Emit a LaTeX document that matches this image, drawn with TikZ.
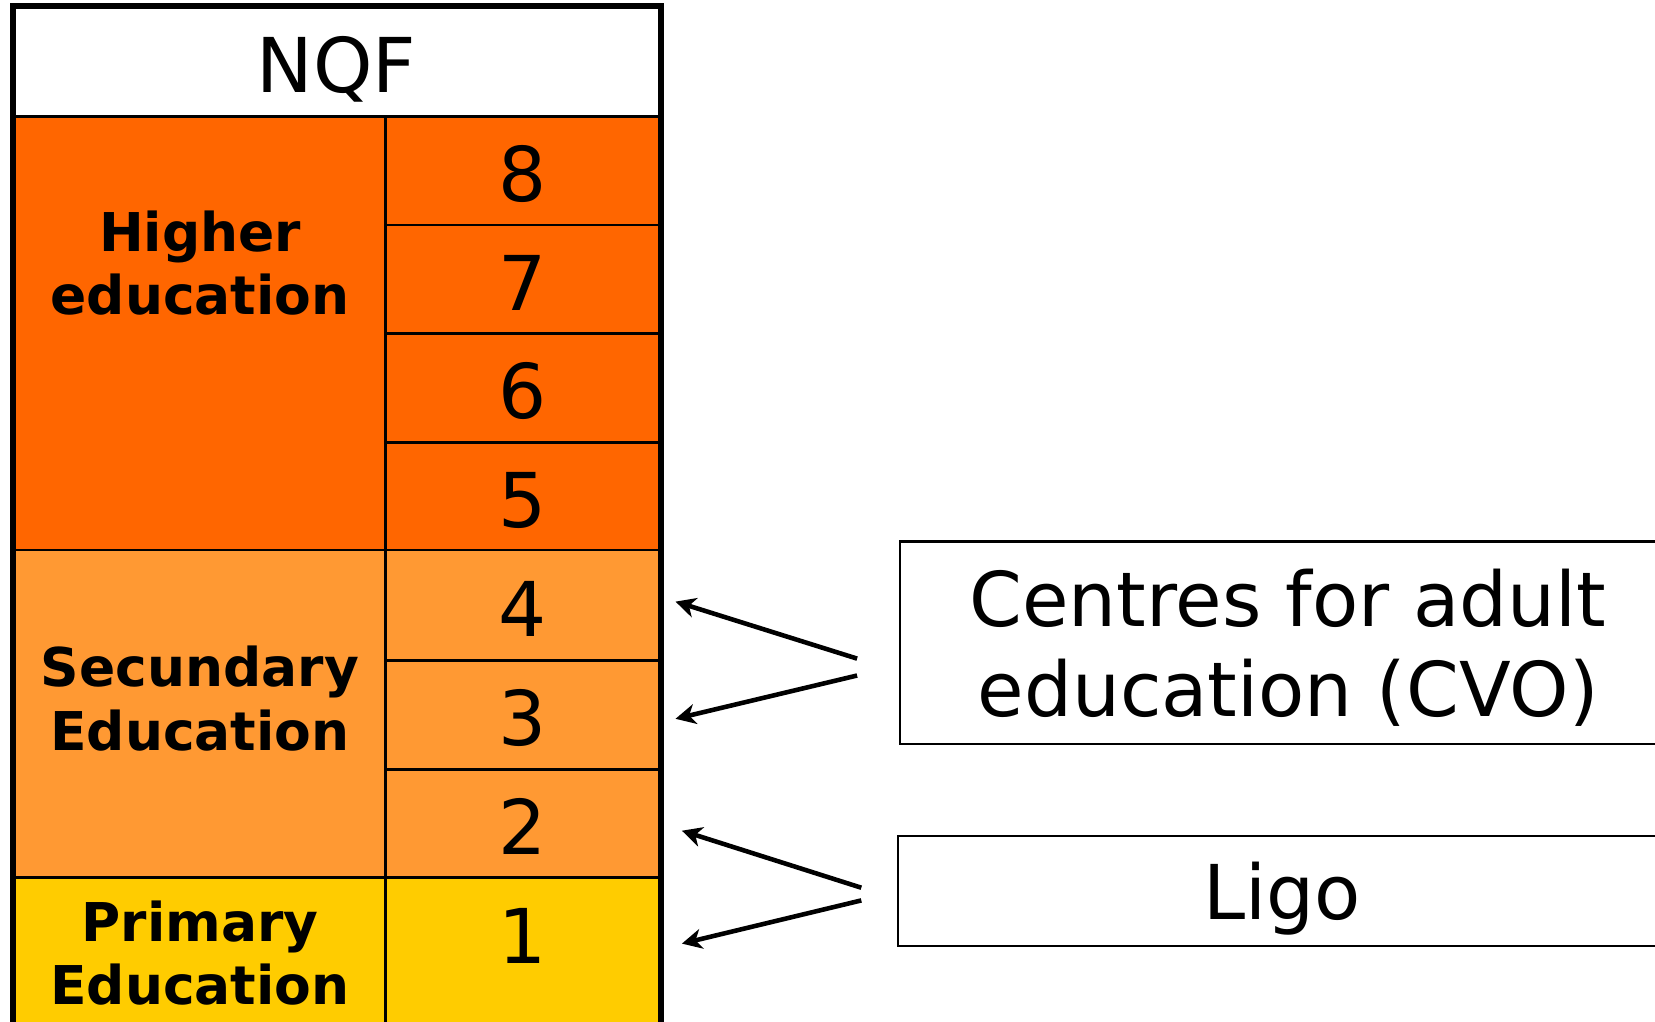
\documentclass[tikz,border=0pt]{standalone}
\usepackage{fontspec}
\setmainfont{DejaVu Sans}
\usetikzlibrary{arrows.meta,calc}

\definecolor{higher}{HTML}{FF6600}
\definecolor{secund}{HTML}{FF9933}
\definecolor{primary}{HTML}{FFCC00}

\tikzset{
  level/.style={font=\fontsize{21.5}{25.5}\selectfont, anchor=base, inner sep=0pt},
  sector/.style={font=\fontsize{15.2}{18}\selectfont\bfseries, align=center, inner sep=0pt},
  provider/.style={draw, line width=0.7pt, align=center, text depth=0pt,
    font=\fontsize{21.5}{25.5}\selectfont},
  feeds/.style={line width=1.3pt, -{Stealth[length=2mm,width=2mm,inset=0.6mm]}}
}

\begin{document}
\begin{tikzpicture}[x=0.01cm,y=-0.01cm]
    \useasboundingbox (0,0) rectangle (1655,1021);

    \coordinate (tl) at (12.7,6.3);
    \coordinate (tr) at (660.7,6.3);
    \coordinate (col) at (385.3,116.1);

    \begin{scope}
    \clip (0,0) rectangle (1655,1021);
    \fill[white] (tl) rectangle (660.7,116.1);
    \fill[higher] (12.7,116.1) rectangle (660.7,549.9);
    \fill[secund] (12.7,549.9) rectangle (660.7,877.1);
    \fill[primary] (12.7,877.1) rectangle (660.7,1040);

    \draw[line width=0.8pt] (12.7,116.1) -- (660.7,116.1);
    \draw[line width=0.8pt] (12.7,549.9) -- (660.7,549.9);
    \draw[line width=0.8pt] (12.7,877.1) -- (660.7,877.1);
    \draw[line width=0.8pt] (col) -- (385.3,1040);
    \foreach \k in {1,2,3,5,6} {
      \draw[line width=0.8pt] (385.3,116.1+\k*108.9) -- (660.7,116.1+\k*108.9);
    }
    \draw[line width=1.8pt] (12.7,1040) -- (tl) -- (tr) -- (660.7,1040);
    \end{scope}

    \node (nqf) [level] at (336.7,92.9) {NQF};
    \foreach \lv in {1,...,8} {
      \node (L\lv) [level] at (523,116.1+8*108.9-\lv*108.9+85) {\lv};
    }

    \node (he) [sector] at (200,263.4) {Higher\\education};
    \node (se) [sector] at (200,698.7) {Secundary\\Education};
    \node (pe) [sector] at (200,953) {Primary\\Education};

    \node (cvo) [provider, minimum width=7.76cm, minimum height=2.026cm]
      at (1288,642.8) {Centres for adult\\education (CVO)};
    \node (ligo) [provider, minimum width=7.68cm, minimum height=1.097cm]
      at (1282,890.9) {Ligo};

    \coordinate (c4) at (675.5,601.6);
    \coordinate (c3) at (675.5,718.8);
    \coordinate (l2) at (681.9,830.7);
    \coordinate (l1) at (681.9,943.6);
    \coordinate (cvoA) at (857.1,658.6);
    \coordinate (cvoB) at (857.1,675.5);
    \coordinate (ligoA) at (861.3,887.7);
    \coordinate (ligoB) at (861.3,900.4);

    \draw[feeds] (cvoA) -- (c4);
    \draw[feeds] (cvoB) -- (c3);
    \draw[feeds] (ligoA) -- (l2);
    \draw[feeds] (ligoB) -- (l1);

\end{tikzpicture}
\end{document}
